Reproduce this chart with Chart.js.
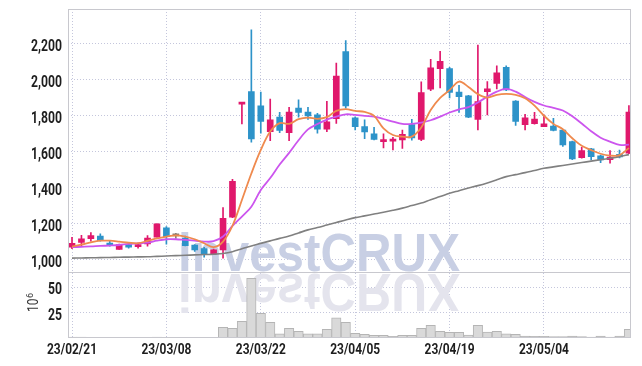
<!DOCTYPE html>
<html><head><meta charset="utf-8">
<script src="https://cdn.jsdelivr.net/npm/chart.js@4.4.0/dist/chart.umd.min.js"></script>
<style>html,body{margin:0;padding:0;background:#fff}#wrap{width:642px;height:366px}</style>
</head><body><div id="wrap"><canvas id="c" width="642" height="366"></canvas></div>
<script>
const dates = ["23/02/21","23/02/22","23/02/23","23/02/24","23/02/27","23/02/28","23/03/02","23/03/03","23/03/06","23/03/07",
"23/03/08","23/03/09","23/03/10","23/03/13","23/03/14","23/03/15","23/03/16","23/03/17","23/03/20","23/03/21",
"23/03/22","23/03/23","23/03/24","23/03/27","23/03/28","23/03/29","23/03/30","23/03/31","23/04/03","23/04/04",
"23/04/05","23/04/06","23/04/07","23/04/10","23/04/11","23/04/12","23/04/13","23/04/14","23/04/17","23/04/18",
"23/04/19","23/04/20","23/04/21","23/04/24","23/04/25","23/04/26","23/04/27","23/04/28","23/05/02","23/05/03",
"23/05/04","23/05/08","23/05/09","23/05/10","23/05/11","23/05/12","23/05/15","23/05/16","23/05/17","23/05/18"];
const openP  = [1071,1097,1118,1133,1093,1059,1085,1074,1089,1126, 1178,1134,1122,1082,1063,1033,1056,1237,1866,1935,
                1856,1713,1793,1707,1844,1822,1806,1726,1785,2157, 1789,1741,1700,1657,1660,1667,1752,1670,1948,2063,
                2063,1933,1911,1781,1935,1980,2070,1883,1752,1757, 1741,1744,1722,1657,1568,1617,1578,1557,1587,1593];
const highP  = [1126,1137,1152,1145,1106,1088,1090,1092,1135,1200, 1185,1148,1133,1085,1070,1060,1291,1448,1872,2278,
                1933,1893,1820,1848,1889,1848,1815,1881,2093,2218, 1795,1778,1737,1700,1681,1722,1781,1989,2115,2159,
                2070,1970,1915,2193,1991,2078,2078,1885,1809,1820, 1806,1787,1726,1661,1626,1620,1583,1607,1611,1857];
const lowP   = [1063,1080,1104,1104,1076,1058,1065,1065,1076,1126, 1088,1120,1078,1048,1015,1030,1010,1235,1756,1654,
                1704,1663,1707,1663,1793,1781,1704,1713,1759,1843, 1722,1674,1667,1622,1611,1619,1665,1663,1941,1956,
                1900,1819,1790,1722,1806,1950,1940,1748,1722,1754, 1740,1717,1630,1557,1565,1556,1540,1537,1567,1590];
const closeP = [1093,1118,1135,1107,1082,1085,1071,1085,1122,1200, 1130,1134,1080,1056,1033,1056,1231,1437,1870,1672,
                1769,1778,1719,1822,1819,1800,1726,1767,2022,1856, 1741,1711,1670,1661,1665,1698,1678,1930,2067,2104,
                1930,1907,1793,1880,1950,2039,1944,1769,1789,1783, 1756,1719,1639,1561,1607,1574,1556,1572,1572,1822];
const volume = [0.9,0.9,0.3,0.3,0.3,0.3,0.3,0.3,0.3,0.9, 0.5,0.3,0.3,0.3,0.3,0.4,10.5,9.5,16.4,59,
                24.3,15.5,4,9.5,6.6,4,4,8.5,20,15.5, 4.6,3.6,2.6,2.6,1.6,2.6,2.6,9.5,12.5,6.6,
                5.6,5.6,3,12.5,5.9,6.6,4,3.6,2,1.6, 1.6,1.5,1.5,1.8,1.5,1,1.8,1,1.8,8.5];
const maShort = [1074,1085,1098,1107,1107,1102,1096,1093,1106,1120, 1130,1137,1130,1115,1093,1071,1102,1190,1333,1480,
                 1611,1713,1760,1756,1782,1791,1784,1793,1828,1838, 1828,1822,1800,1731,1694,1685,1685,1736,1833,1900,
                 1943,1991,1961,1921,1902,1917,1922,1917,1898,1857, 1801,1756,1726,1676,1634,1610,1590,1580,1582,1622];
const maMid   = [1071,1073,1075,1078,1080,1083,1089,1092,1096,1107, 1115,1115,1111,1107,1102,1104,1130,1189,1241,1296,
                 1389,1455,1530,1595,1665,1725,1755,1780,1796,1809, 1806,1800,1796,1783,1769,1756,1756,1763,1776,1796,
                 1819,1837,1849,1875,1907,1935,1950,1935,1905,1878, 1858,1845,1830,1798,1758,1715,1679,1657,1639,1641];
const maLong  = [1010,1011,1012,1013,1014,1015,1016,1017,1018,1020, 1022,1024,1026,1028,1030,1032,1036,1046,1062,1078,
                 1092,1106,1120,1133,1150,1167,1180,1194,1208,1222, 1235,1245,1255,1265,1276,1288,1302,1316,1335,1352,
                 1370,1385,1400,1413,1428,1445,1463,1474,1485,1497, 1509,1517,1525,1533,1541,1549,1557,1565,1574,1585];
const priceTicks = [1000,1200,1400,1600,1800,2000,2200];
const volumeTicks = [25,50];
const dateTickIdx = [0,10,20,30,40,50];

const UP = '#e0186c', DOWN = '#2d93c9', FLAT = '#8c8076';
const candleColor = ctx => {
  const i = ctx.dataIndex; if (i === undefined) return UP;
  return closeP[i] > openP[i] ? UP : (closeP[i] < openP[i] ? DOWN : FLAT);
};
const pts = arr => arr.map((v, i) => ({x: i, y: v}));
const fmt = v => v.toLocaleString('en-US');

function drawCondensed(ctx, text, x, y, sx, align) {
  ctx.save();
  ctx.translate(x, y);
  ctx.scale(sx, 1);
  ctx.textAlign = align;
  ctx.fillText(text, 0, 0);
  ctx.restore();
}

const decor = {
  id: 'decor',
  beforeDatasetsDraw(chart) {
    const ctx = chart.ctx;
    const text = 'investCRUX';
    ctx.save();
    ctx.font = "bold 54px 'Liberation Sans', Arial, sans-serif";
    const w = ctx.measureText(text).width;
    const sx = 282 / w;
    ctx.textBaseline = 'alphabetic';
    ctx.save();
    ctx.translate(178, 271);
    ctx.scale(sx, 1);
    ctx.fillStyle = '#c8cfe4';
    ctx.fillText(text, 0, 0);
    ctx.restore();
    ctx.save();
    ctx.translate(178, 274);
    ctx.scale(sx, -1);
    ctx.fillStyle = '#e4e4ed';
    ctx.fillText(text, 0, 0);
    ctx.restore();
    ctx.restore();
  },
  afterDraw(chart) {
    const ctx = chart.ctx, a = chart.chartArea;
    const {x, y, yv} = chart.scales;
    ctx.save();
    ctx.strokeStyle = '#c8c8ce';
    ctx.lineWidth = 1;
    ctx.beginPath();
    ctx.moveTo(a.left + 0.5, a.top); ctx.lineTo(a.left + 0.5, a.bottom);
    ctx.moveTo(a.right - 0.5, a.top); ctx.lineTo(a.right - 0.5, a.bottom);
    ctx.moveTo(a.left, a.top + 0.5); ctx.lineTo(a.right, a.top + 0.5);
    ctx.moveTo(a.left, a.bottom - 0.5); ctx.lineTo(a.right, a.bottom - 0.5);
    const sep = Math.round(y.bottom) + 0.5;
    ctx.moveTo(a.left, sep); ctx.lineTo(a.right, sep);
    ctx.stroke();

    // tick labels (condensed look)
    ctx.fillStyle = '#1e1e1e';
    ctx.font = "bold 16px Roboto, 'Liberation Sans', sans-serif";
    ctx.textBaseline = 'alphabetic';
    const sy = 31 / ctx.measureText('2,200').width;
    priceTicks.forEach(v => drawCondensed(ctx, fmt(v), 62, y.getPixelForValue(v) + 7, sy, 'right'));
    volumeTicks.forEach(v => drawCondensed(ctx, fmt(v), 62, yv.getPixelForValue(v) + 7, sy, 'right'));
    ctx.font = "bold 15px Roboto, 'Liberation Sans', sans-serif";
    const sxl = 50 / ctx.measureText('23/02/21').width;
    dateTickIdx.forEach(i => drawCondensed(ctx, dates[i], x.getPixelForValue(i), 354, sxl, 'center'));

    // axis unit 10^6
    ctx.fillStyle = '#333';
    ctx.translate(38, 312);
    ctx.rotate(-Math.PI / 2);
    ctx.font = "14px Roboto, 'Liberation Sans', sans-serif";
    ctx.textAlign = 'left';
    ctx.save(); ctx.scale(0.85, 1); ctx.fillText('10', 0, 0); ctx.restore();
    const tw = ctx.measureText('10').width * 0.85;
    ctx.font = "9px Roboto, 'Liberation Sans', sans-serif";
    ctx.fillText('6', tw + 0.5, -5);
    ctx.restore();
  }
};

const gridOpts = {color: '#c4c6dc', lineWidth: 1, drawTicks: false, offset: false};
new Chart(document.getElementById('c'), {
  data: {
    datasets: [
      {type: 'line', label: 'MA short', data: pts(maShort), borderColor: '#ef8a4e', borderWidth: 1.8, pointRadius: 0, tension: 0.35, yAxisID: 'y', order: 0},
      {type: 'line', label: 'MA mid', data: pts(maMid), borderColor: '#cc55ee', borderWidth: 1.8, pointRadius: 0, tension: 0.35, yAxisID: 'y', order: 1},
      {type: 'line', label: 'MA long', data: pts(maLong), borderColor: '#808080', borderWidth: 1.6, pointRadius: 0, tension: 0.35, yAxisID: 'y', order: 2},
      {type: 'bar', label: 'body', data: openP.map((o, i) => ({x: i, y: [o, closeP[i]]})), backgroundColor: candleColor, barThickness: 6, minBarLength: 2, grouped: false, yAxisID: 'y', order: 3},
      {type: 'bar', label: 'wick', data: lowP.map((l, i) => ({x: i, y: [l, highP[i]]})), backgroundColor: candleColor, barThickness: 1, grouped: false, yAxisID: 'y', order: 4},
      {type: 'bar', label: 'volume', data: pts(volume), backgroundColor: '#d9d9d9', borderColor: '#b5b5b5', borderWidth: 1, barPercentage: 1, categoryPercentage: 1, grouped: false, yAxisID: 'yv', order: 5}
    ]
  },
  options: {
    responsive: false,
    animation: false,
    devicePixelRatio: 1,
    layout: {padding: {top: 9, right: 11, left: 0, bottom: 0}},
    plugins: {legend: {display: false}, tooltip: {enabled: false}},
    scales: {
      x: {
        type: 'linear', min: -0.424, max: 59.22, offset: false,
        afterBuildTicks: s => { s.ticks = dateTickIdx.map(v => ({value: v})); },
        afterFit: s => { s.height = 28; },
        grid: gridOpts,
        border: {display: false, dash: [1, 2]},
        ticks: {display: false, callback: v => dates[v]}
      },
      yv: {
        type: 'linear', position: 'left', stack: 'panels', stackWeight: 1,
        min: 0, max: 65,
        afterBuildTicks: s => { s.ticks = volumeTicks.map(v => ({value: v})); },
        afterFit: s => { s.width = 68; },
        grid: gridOpts,
        border: {display: false, dash: [1, 2]},
        ticks: {display: false}
      },
      y: {
        type: 'linear', position: 'left', stack: 'panels', stackWeight: 4,
        min: 932, max: 2394,
        afterBuildTicks: s => { s.ticks = priceTicks.map(v => ({value: v})); },
        afterFit: s => { s.width = 68; },
        grid: gridOpts,
        border: {display: false, dash: [1, 2]},
        ticks: {display: false, callback: fmt}
      }
    }
  },
  plugins: [decor]
});
</script></body></html>
